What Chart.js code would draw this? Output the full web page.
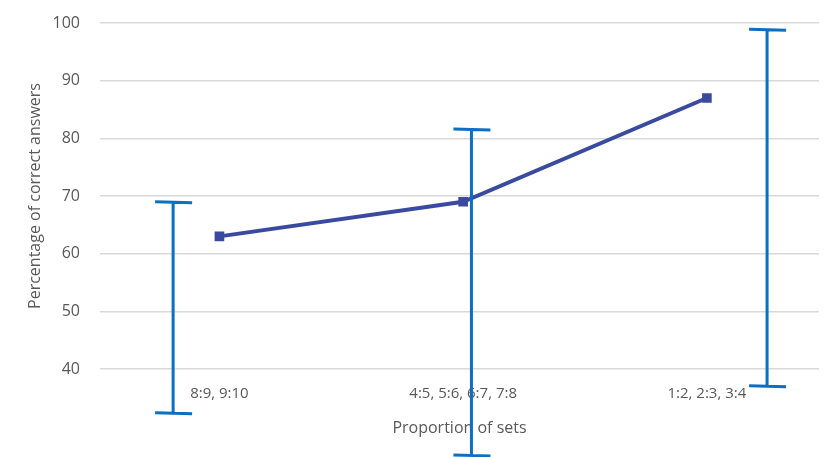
<!DOCTYPE html>
<html>
<head>
<meta charset="utf-8">
<script src="https://cdn.jsdelivr.net/npm/chart.js@4/dist/chart.umd.min.js"></script>
<style>
html,body{margin:0;padding:0;background:#fff;}
#wrap{width:827px;height:457px;}
</style>
</head>
<body>
<div id="wrap"><canvas id="c" width="827" height="457"></canvas></div>
<script>
const categories = ["8:9, 9:10", "4:5, 5:6, 6:7, 7:8", "1:2, 2:3, 3:4"];
const percentCorrect = [63, 69, 87];
const errorHigh = [69, 81.6, 98.9];
const errorLow = [32.4, 25.1, 37.1];
const errorBarShift = [-0.19, 0.034, 0.247];
const yTicks = [40, 50, 60, 70, 80, 90, 100];

const errorBarPlugin = {
  id: 'errorBars',
  afterDatasetsDraw(chart) {
    const ctx = chart.ctx, xs = chart.scales.x, ys = chart.scales.y;
    ctx.save();
    ctx.strokeStyle = '#0b6fc2';
    ctx.lineWidth = 3;
    ctx.lineCap = 'butt';
    categories.forEach((c, i) => {
      const x = xs.getPixelForValue(i + errorBarShift[i]);
      const yT = ys.getPixelForValue(errorHigh[i]);
      const yB = ys.getPixelForValue(errorLow[i]);
      ctx.beginPath();
      ctx.moveTo(x, yT); ctx.lineTo(x, yB);
      ctx.moveTo(x - 18, yT); ctx.lineTo(x + 19, yT + 1);
      ctx.moveTo(x - 18, yB); ctx.lineTo(x + 19, yB + 1);
      ctx.stroke();
    });
    ctx.restore();
  }
};

new Chart(document.getElementById('c'), {
  type: 'line',
  data: {
    datasets: [{
      data: percentCorrect.map((v, i) => ({x: i, y: v})),
      borderColor: '#3a4b9f',
      backgroundColor: '#3a4b9f',
      borderWidth: 4,
      pointStyle: 'rect',
      pointRadius: 4,
      tension: 0
    }]
  },
  options: {
    responsive: false,
    animation: false,
    layout: {padding: {top: 23, right: 2, left: 0, bottom: 0}},
    plugins: {legend: {display: false}, tooltip: {enabled: false}},
    scales: {
      x: {
        type: 'linear', min: -0.49, max: 2.46,
        afterBuildTicks(s) { s.ticks = categories.map((c, i) => ({value: i})); },
        afterFit(s) { s.height = 88; s.paddingLeft = 0; s.paddingRight = 0; },
        grid: {display: false, drawTicks: false},
        border: {display: false},
        ticks: {
          callback: (v) => categories[v],
          color: '#595959', padding: 16, maxRotation: 0,
          font: {family: 'Open Sans', size: 15}
        },
        title: {display: true, text: 'Proportion of sets', color: '#595959',
          font: {family: 'Open Sans', size: 16}, padding: {top: 0, bottom: 19}}
      },
      y: {
        min: 40, max: 100,
        afterBuildTicks(s) { s.ticks = yTicks.map(v => ({value: v})); },
        afterFit(s) { s.width = 100; s.paddingTop = 0; s.paddingBottom = 0; },
        grid: {color: '#d9d9d9', lineWidth: 1.5, drawTicks: false},
        border: {display: false},
        ticks: {color: '#595959', padding: 20, font: {family: 'Open Sans', size: 16}},
        title: {display: true, text: 'Percentage of correct answers', color: '#595959',
          font: {family: 'Open Sans', size: 16}, padding: {top: 26, bottom: 0}}
      }
    }
  },
  plugins: [errorBarPlugin]
});
</script>
</body>
</html>
